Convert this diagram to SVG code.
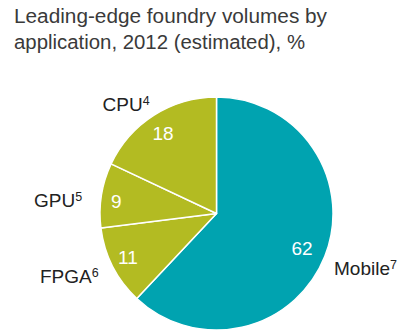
<svg xmlns="http://www.w3.org/2000/svg" width="414" height="330" viewBox="0 0 414 330">
  <style>
    .title { font-family: "Liberation Sans", Arial, sans-serif; font-size: 20px; fill: #3a3a3a; }
    .label { font-family: "Liberation Sans", Arial, sans-serif; font-size: 19px; fill: #222222; }
    .sup { font-size: 12.5px; }
    .value { font-family: "Liberation Sans", Arial, sans-serif; font-size: 19px; fill: #ffffff; }
    .teal { fill: #00a3b0; stroke: #ffffff; stroke-width: 1.5; stroke-linejoin: round; }
    .olive { fill: #b3bb22; stroke: #ffffff; stroke-width: 1.5; stroke-linejoin: round; }
  </style>
  <rect width="414" height="330" fill="#ffffff"/>

  <g id="title">
    <text class="title" x="14" y="23" textLength="313" lengthAdjust="spacingAndGlyphs">Leading-edge foundry volumes by</text>
    <text class="title" x="14" y="49" textLength="291" lengthAdjust="spacingAndGlyphs">application, 2012 (estimated), %</text>
  </g>

  <!-- pie: centre (216.5, 213.5), radius 116.5, slices clockwise from 12 o'clock -->
  <g id="mobile">
    <path class="teal" d="M216.5,213.5 L216.5,97 A116.5,116.5 0 1 1 136.76,298.43 Z"/>
    <text class="value" x="291.5" y="255">62</text>
    <text class="label" x="334" y="275">Mobile<tspan class="sup" dy="-6">7</tspan></text>
  </g>

  <g id="fpga">
    <path class="olive" d="M216.5,213.5 L136.76,298.43 A116.5,116.5 0 0 1 100.92,228.10 Z"/>
    <text class="value" x="118" y="264">11</text>
    <text class="label" x="40" y="283">FPGA<tspan class="sup" dy="-6">6</tspan></text>
  </g>

  <g id="gpu">
    <path class="olive" d="M216.5,213.5 L100.92,228.10 A116.5,116.5 0 0 1 111.09,163.90 Z"/>
    <text class="value" x="111" y="208">9</text>
    <text class="label" x="34" y="207">GPU<tspan class="sup" dy="-6">5</tspan></text>
  </g>

  <g id="cpu">
    <path class="olive" d="M216.5,213.5 L111.09,163.90 A116.5,116.5 0 0 1 216.5,97 Z"/>
    <text class="value" x="152.5" y="140">18</text>
    <text class="label" x="102.5" y="111">CPU<tspan class="sup" dy="-6">4</tspan></text>
  </g>
</svg>
